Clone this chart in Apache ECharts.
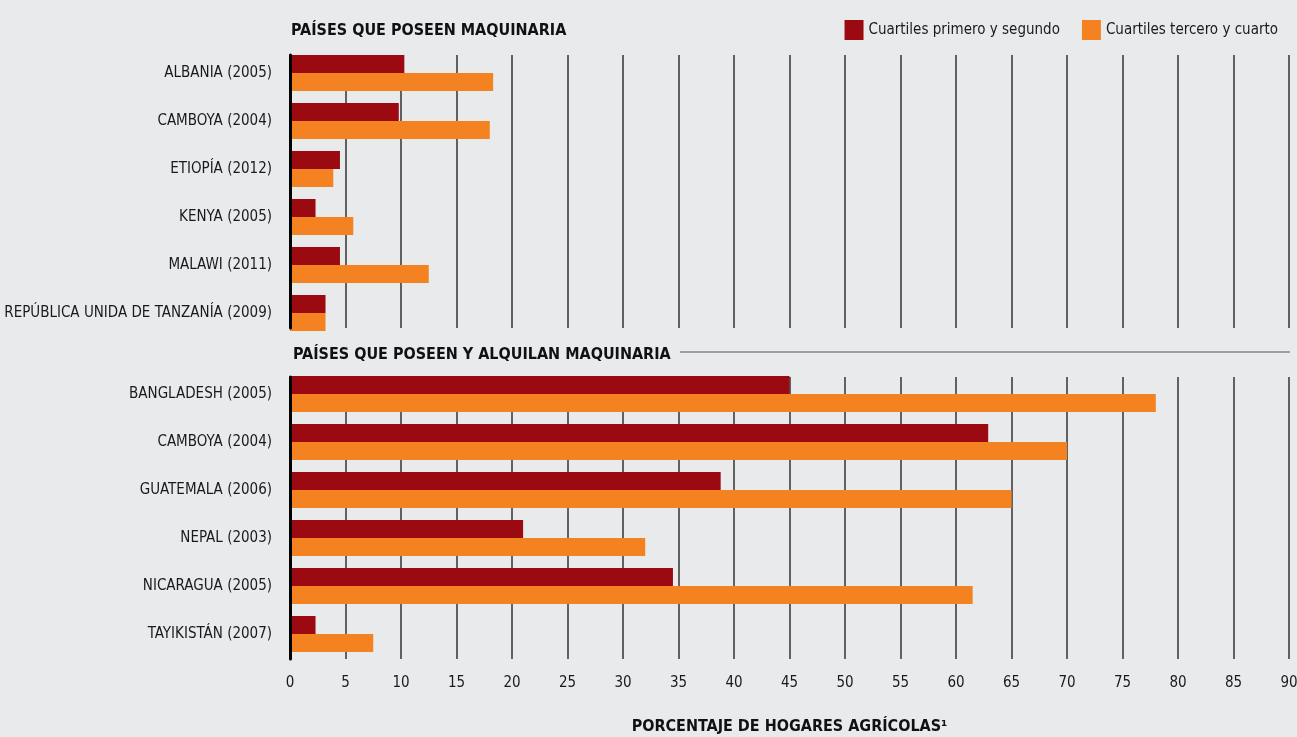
<!DOCTYPE html>
<html>
<head>
<meta charset="utf-8">
<script src="https://cdn.jsdelivr.net/npm/echarts@6/dist/echarts.min.js"></script>
<style>
  html, body { margin: 0; padding: 0; background: #e9eaec; }
  #chart { width: 1297px; height: 737px; }
</style>
</head>
<body>
<div id="chart"></div>
<script>
const FONT = '"Liberation Sans Narrow", "DejaVu Sans Condensed", sans-serif'
const RED = '#9b0a10'
const ORANGE = '#f58220'

const seriesNames = ['Cuartiles primero y segundo', 'Cuartiles tercero y cuarto']

// países que poseen maquinaria
const ownCountries = ['ALBANIA (2005)', 'CAMBOYA (2004)', 'ETIOPÍA (2012)', 'KENYA (2005)', 'MALAWI (2011)', 'REPÚBLICA UNIDA DE TANZANÍA (2009)']
const ownLow = [10.3, 9.8, 4.5, 2.3, 4.5, 3.2]
const ownHigh = [18.3, 18.0, 3.9, 5.7, 12.5, 3.2]

// países que poseen y alquilan maquinaria
const rentCountries = ['BANGLADESH (2005)', 'CAMBOYA (2004)', 'GUATEMALA (2006)', 'NEPAL (2003)', 'NICARAGUA (2005)', 'TAYIKISTÁN (2007)']
const rentLow = [45.0, 62.9, 38.8, 21.0, 34.5, 2.3]
const rentHigh = [78.0, 70.0, 65.0, 32.0, 61.5, 7.5]

const xTicks = [0, 90, 5]

const chart = echarts.init(document.getElementById('chart'))

function valueAxis(gridIndex, showLabels) {
  return {
    type: 'value',
    gridIndex,
    min: xTicks[0],
    max: xTicks[1],
    interval: xTicks[2],
    axisLine: { show: false },
    axisTick: { show: false },
    axisLabel: {
      show: showLabels,
      fontFamily: FONT,
      fontSize: 15,
      color: '#1a1a1a',
      margin: 17
    },
    splitLine: { show: false }
  }
}

function lineAxis(gridIndex, showLabels) {
  const ax = valueAxis(gridIndex, showLabels)
  ax.splitLine = { show: true, lineStyle: { color: '#333', width: 1.5 } }
  return ax
}

function catAxis(gridIndex, data) {
  return {
    type: 'category',
    gridIndex,
    data,
    inverse: true,
    axisLine: { show: false },
    axisTick: { show: false },
    axisLabel: {
      fontFamily: FONT,
      fontSize: 15,
      color: '#1a1a1a',
      margin: 18
    }
  }
}

function edgeAxis(gridIndex) {
  return {
    type: 'value',
    gridIndex,
    min: 0,
    max: 1,
    z: 5,
    axisLine: { show: true, onZero: false, lineStyle: { color: '#000', width: 3 } },
    axisTick: { show: false },
    axisLabel: { show: false },
    splitLine: { show: false }
  }
}

function bar(name, xi, data, color) {
  return {
    name,
    type: 'bar',
    xAxisIndex: xi,
    yAxisIndex: xi,
    data,
    barWidth: 18,
    barGap: '0%',
    itemStyle: { color },
    emphasis: { disabled: true }
  }
}

chart.setOption({
  backgroundColor: '#e9eaec',
  animation: false,
  title: [
    {
      text: 'PAÍSES QUE POSEEN MAQUINARIA',
      left: 286,
      top: 18,
      textStyle: { fontFamily: FONT, fontSize: 16, fontWeight: 'bold', color: '#111' }
    },
    {
      text: 'PAÍSES QUE POSEEN Y ALQUILAN MAQUINARIA',
      left: 288,
      top: 342,
      textStyle: { fontFamily: FONT, fontSize: 16, fontWeight: 'bold', color: '#111' }
    }
  ],
  legend: {
    data: seriesNames,
    right: 14,
    top: 15,
    icon: 'rect',
    itemWidth: 19,
    itemHeight: 20,
    itemGap: 22,
    textStyle: { fontFamily: FONT, fontSize: 15, color: '#1a1a1a' }
  },
  graphic: [
    {
      type: 'line',
      shape: { x1: 680, y1: 352, x2: 1290, y2: 352 },
      style: { stroke: '#555', lineWidth: 1 }
    }
  ],
  grid: [
    { left: 290, width: 999, top: 49, height: 288, outerBoundsMode: 'none' },
    { left: 290, width: 999, top: 370, height: 288, outerBoundsMode: 'none' },
    { left: 290, width: 999, top: 55, height: 273, outerBoundsMode: 'none' },
    { left: 290, width: 999, top: 377, height: 282, outerBoundsMode: 'none' }
  ],
  xAxis: [
    valueAxis(0, false),
    valueAxis(1, false),
    lineAxis(2, false),
    Object.assign(lineAxis(3, true), {
      name: 'PORCENTAJE DE HOGARES AGRÍCOLAS¹',
      nameLocation: 'middle',
      nameGap: 60,
      nameTextStyle: { fontFamily: FONT, fontSize: 16, fontWeight: 'bold', color: '#111' }
    })
  ],
  yAxis: [
    catAxis(0, ownCountries),
    catAxis(1, rentCountries),
    edgeAxis(2),
    edgeAxis(3)
  ],
  series: [
    bar(seriesNames[0], 0, ownLow, RED),
    bar(seriesNames[1], 0, ownHigh, ORANGE),
    bar(seriesNames[0], 1, rentLow, RED),
    bar(seriesNames[1], 1, rentHigh, ORANGE)
  ]
})

window.addEventListener('resize', () => {
  chart.resize()
})
</script>
</body>
</html>
